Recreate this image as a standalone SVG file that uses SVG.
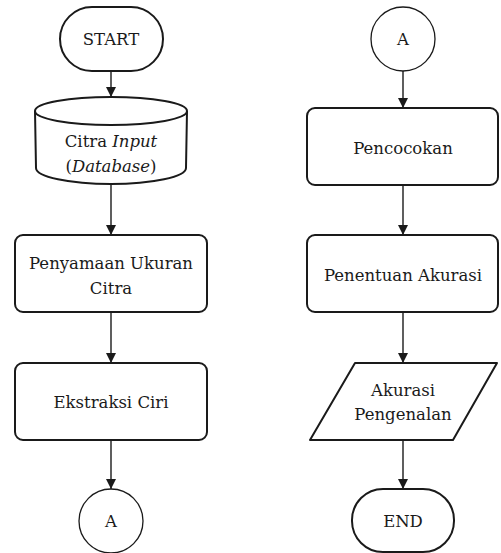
<svg xmlns="http://www.w3.org/2000/svg" width="501" height="553" viewBox="0 0 501 553">
  <style>
    .shape { fill: #ffffff; stroke: #1a1a1a; stroke-width: 2; }
    .thin { fill: #ffffff; stroke: #1a1a1a; stroke-width: 1.3; }
    text { font-family: 'DejaVu Serif', serif; font-size: 16.5px; fill: #1a1a1a; text-anchor: middle; }
    .flow { fill: none; stroke: #1a1a1a; stroke-width: 1.4; marker-end: url(#arrow); }
  </style>
  <defs>
    <marker id="arrow" viewBox="0 0 10 10" refX="10" refY="5" markerWidth="10" markerHeight="10" markerUnits="userSpaceOnUse" orient="auto">
      <path d="M0,0 L10,5 L0,10 Z" fill="#1a1a1a"/>
    </marker>
  </defs>
  <rect width="501" height="553" fill="#ffffff"/>

  <!-- flow lines between steps -->
  <g id="connectors">
    <line class="flow" x1="111" y1="71" x2="111" y2="97"/>
    <line class="flow" x1="111" y1="184" x2="111" y2="235"/>
    <line class="flow" x1="111" y1="312" x2="111" y2="363"/>
    <line class="flow" x1="111" y1="440" x2="111" y2="489"/>
    <line class="flow" x1="403" y1="71" x2="403" y2="108"/>
    <line class="flow" x1="403" y1="185" x2="403" y2="235"/>
    <line class="flow" x1="403" y1="312" x2="403" y2="363"/>
    <line class="flow" x1="403" y1="440" x2="403" y2="489"/>
  </g>

  <g id="start">
    <rect class="shape" x="60" y="7" width="103" height="64" rx="32" ry="32"/>
    <text x="111" y="45">START</text>
  </g>

  <g id="citra-input">
    <path class="shape" d="M35,111 A76,14 0 0 1 187,111 L186,168 A75,16 0 0 1 36,168 Z"/>
    <path class="shape" fill="none" d="M35,111 A76,14 0 0 0 187,111"/>
    <text x="111" y="147">Citra <tspan font-style="italic">Input</tspan></text>
    <text x="111" y="172">(<tspan font-style="italic">Database</tspan>)</text>
  </g>

  <g id="penyamaan">
    <rect class="shape" x="15" y="235" width="192" height="77" rx="8" ry="8"/>
    <text x="111" y="269">Penyamaan Ukuran</text>
    <text x="111" y="294">Citra</text>
  </g>

  <g id="ekstraksi">
    <rect class="shape" x="15" y="363" width="192" height="77" rx="8" ry="8"/>
    <text x="111" y="408">Ekstraksi Ciri</text>
  </g>

  <g id="connector-a-out">
    <circle class="thin" cx="111" cy="521" r="32"/>
    <text x="111" y="527">A</text>
  </g>

  <g id="connector-a-in">
    <circle class="thin" cx="403" cy="39" r="32"/>
    <text x="403" y="45">A</text>
  </g>

  <g id="pencocokan">
    <rect class="shape" x="307" y="108" width="191" height="77" rx="8" ry="8"/>
    <text x="403" y="154">Pencocokan</text>
  </g>

  <g id="penentuan">
    <rect class="shape" x="307" y="235" width="191" height="77" rx="8" ry="8"/>
    <text x="403" y="281">Penentuan Akurasi</text>
  </g>

  <g id="akurasi">
    <path class="shape" stroke-linejoin="round" d="M355,363 L497,363 L453,440 L310,440 Z"/>
    <text x="403" y="396">Akurasi</text>
    <text x="403" y="420">Pengenalan</text>
  </g>

  <g id="end">
    <rect class="shape" x="352" y="489" width="102" height="63" rx="31" ry="31"/>
    <text x="403" y="527">END</text>
  </g>
</svg>
